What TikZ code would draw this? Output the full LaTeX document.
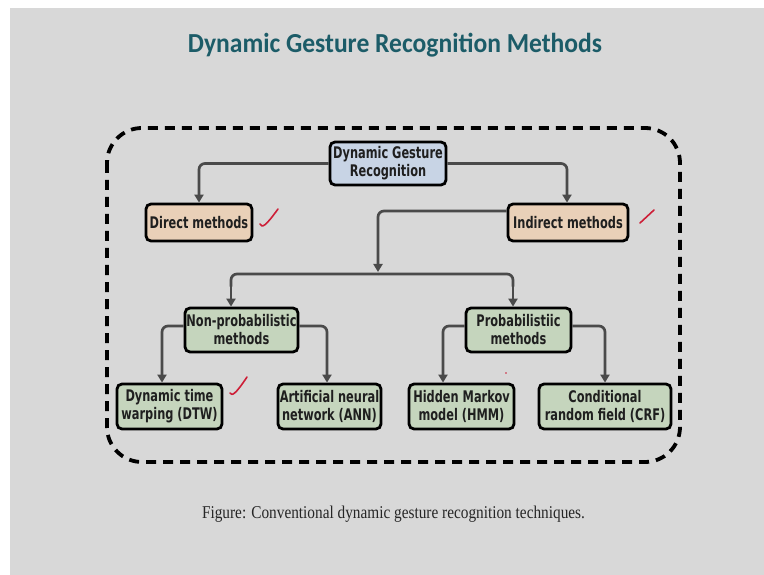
\documentclass[tikz,border=0pt]{standalone}
\usepackage{fontspec}
\usetikzlibrary{arrows.meta}
\newfontfamily\boxfont[FakeStretch=0.71]{DejaVu Sans}
\newfontfamily\titlefont[FakeStretch=0.93]{Carlito}
\newfontfamily\capfont[FakeStretch=0.85]{Liberation Serif}
\definecolor{slide}{RGB}{216,216,216}
\definecolor{titleteal}{RGB}{28,92,104}
\definecolor{rootblue}{RGB}{200,212,229}
\definecolor{tan}{RGB}{233,208,184}
\definecolor{sage}{RGB}{197,213,189}
\definecolor{linegray}{RGB}{74,74,74}
\definecolor{inkred}{RGB}{205,30,55}
\tikzset{
  box/.style={draw=black, line width=2.8pt, rounded corners=5pt, inner sep=0pt,
    align=center, text=black!88,
    font=\boxfont\bfseries\fontsize{16}{18}\selectfont},
  rootbox/.style={box, fill=rootblue},
  tanbox/.style={box, fill=tan},
  greenbox/.style={box, fill=sage},
  conn/.style={draw=linegray, line width=2.7pt, rounded corners=6pt,
    -{Triangle[length=8pt,width=9pt]}},
  bar/.style={draw=linegray, line width=2.7pt, rounded corners=6pt},
  tick/.style={draw=inkred, line width=1.6pt, line cap=round, line join=round}
}
\begin{document}
\begin{tikzpicture}[x=1pt,y=-1pt]
\useasboundingbox (0,0) rectangle (764,575);
\fill[white] (0,0) rectangle (764,575);
\fill[slide] (10,8) rectangle (764,575);

% heading and caption
\node[anchor=base, text=titleteal, font=\titlefont\bfseries\fontsize{27.5}{30}\selectfont]
  (title) at (395,53) {Dynamic Gesture Recognition Methods};
\node[anchor=base, text=black!85, font=\capfont\fontsize{18}{20}\selectfont]
  (caption) at (393.5,518) {Figure: Conventional dynamic gesture recognition techniques.};

% dashed frame around the tree
\draw[black, line width=3.8pt, dash pattern=on 10pt off 7pt, rounded corners=35pt]
  (107,128) rectangle (680,462);

% boxes
\node[rootbox, minimum width=116pt, minimum height=43pt] (root) at (388,163.5) {Dynamic Gesture\\Recognition};
\node[tanbox, minimum width=106pt, minimum height=37pt] (direct) at (199,222.5) {Direct methods};
\node[tanbox, minimum width=120pt, minimum height=37pt] (indirect) at (568,222.5) {Indirect methods};
\node[greenbox, minimum width=113pt, minimum height=44pt] (nonprob) at (241.5,330) {Non-probabilistic\\methods};
\node[greenbox, minimum width=105pt, minimum height=44pt] (prob) at (518.5,330) {Probabilistiic\\methods};
\node[greenbox, minimum width=105pt, minimum height=45pt] (dtw) at (169.5,406.5) {Dynamic time\\warping (DTW)};
\node[greenbox, minimum width=103pt, minimum height=45pt] (ann) at (329.5,406.5) {Artificial neural\\network (ANN)};
\node[greenbox, minimum width=105pt, minimum height=45pt] (hmm) at (461.5,406.5) {Hidden Markov\\model (HMM)};
\node[greenbox, minimum width=132pt, minimum height=45pt] (crf) at (605,406.5) {Conditional\\random field (CRF)};

% connectors
\coordinate (split) at (378,274);
\draw[conn] (root.west) -| (direct.north);
\draw[conn] (root.east) -| ([xshift=-1pt]indirect.north);
\draw[conn] ([yshift=11.5pt]indirect.west) -| ([yshift=2pt]split);
\draw[bar] (split) -| ([xshift=-10.5pt,yshift=20pt]nonprob.north);
\draw[bar] (split) -| ([xshift=-5.5pt,yshift=20pt]prob.north);
\draw[conn] ([xshift=-10.5pt,yshift=22pt]nonprob.north) -- ([xshift=-10.5pt]nonprob.north);
\draw[conn] ([xshift=-5.5pt,yshift=22pt]prob.north) -- ([xshift=-5.5pt]prob.north);
\draw[conn] ([yshift=4pt]nonprob.west) -| ([xshift=-7.5pt]dtw.north);
\draw[conn] ([yshift=4pt]nonprob.east) -| ([xshift=-2.5pt]ann.north);
\draw[conn] ([yshift=4pt]prob.west) -| ([xshift=-18.5pt]hmm.north);
\draw[conn] ([yshift=4pt]prob.east) -| (crf.north);

% hand-written ticks
\draw[tick] (260,224) .. controls (262,228) and (265,227) .. (278,209);
\draw[tick] (640,223) -- (654,210);
\draw[tick] (230,393) .. controls (232,396) and (235,395) .. (247,377);
\fill[inkred] (506,373) circle (0.9pt);
\end{tikzpicture}
\end{document}
